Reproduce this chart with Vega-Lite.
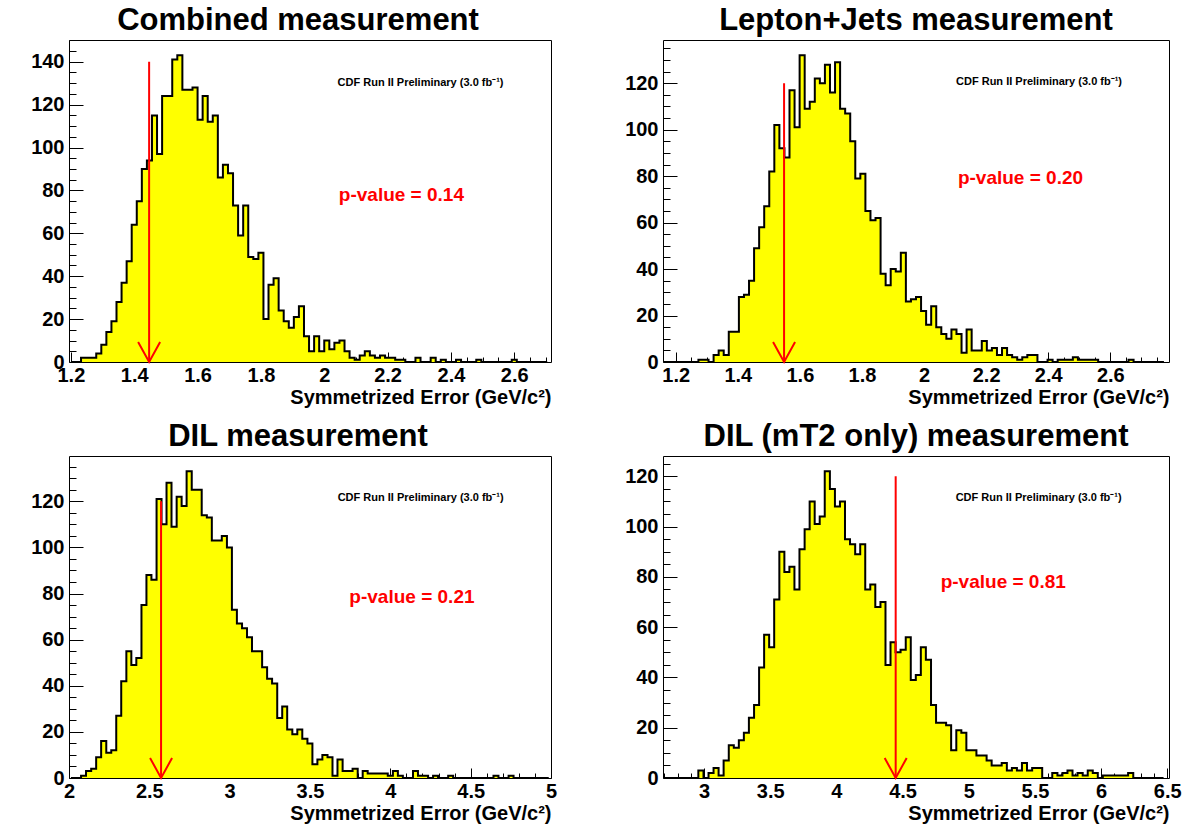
{
  "$schema": "https://vega.github.io/schema/vega-lite/v6.json",
  "background": "white",
  "padding": {"left": 30, "top": 4, "right": 2, "bottom": 2},
  "config": {
    "font": "Liberation Sans",
    "view": {"stroke": "black", "strokeWidth": 1},
    "axis": {
      "grid": false, "domain": false,
      "labelFont": "Liberation Sans", "labelFontWeight": "bold", "labelFontSize": 20, "labelColor": "black",
      "labelFlush": false, "labelOverlap": false,
      "tickColor": "black", "tickWidth": 1,
      "titleFont": "Liberation Sans", "titleFontWeight": "bold", "titleFontSize": 20, "titleColor": "black"
    },
    "title": {"font": "Liberation Sans", "fontWeight": "bold", "fontSize": 31, "color": "black", "anchor": "middle", "offset": 3, "baseline": "alphabetic"}
  },
  "datasets": {
    "combined": [
      {"err":1.2,"n":0},{"err":1.216,"n":0},{"err":1.232,"n":2},{"err":1.248,"n":2},{"err":1.264,"n":2},{"err":1.28,"n":4},{"err":1.296,"n":8},{"err":1.312,"n":14},{"err":1.328,"n":19},{"err":1.344,"n":28},
      {"err":1.36,"n":37},{"err":1.376,"n":47},{"err":1.392,"n":64},{"err":1.408,"n":75},{"err":1.424,"n":90},{"err":1.44,"n":94},{"err":1.456,"n":115},{"err":1.472,"n":97},{"err":1.488,"n":124},{"err":1.504,"n":124},
      {"err":1.52,"n":141},{"err":1.536,"n":143},{"err":1.552,"n":127},{"err":1.568,"n":127},{"err":1.584,"n":128},{"err":1.6,"n":113},{"err":1.616,"n":124},{"err":1.632,"n":112},{"err":1.648,"n":115},{"err":1.664,"n":86},
      {"err":1.68,"n":92},{"err":1.696,"n":88},{"err":1.712,"n":73},{"err":1.728,"n":59},{"err":1.744,"n":73},{"err":1.76,"n":49},{"err":1.776,"n":48},{"err":1.792,"n":51},{"err":1.808,"n":20},{"err":1.824,"n":36},
      {"err":1.84,"n":39},{"err":1.856,"n":24},{"err":1.872,"n":19},{"err":1.888,"n":16},{"err":1.904,"n":21},{"err":1.92,"n":26},{"err":1.936,"n":12},{"err":1.952,"n":5},{"err":1.968,"n":12},{"err":1.984,"n":5},
      {"err":2.0,"n":10},{"err":2.016,"n":6},{"err":2.032,"n":9},{"err":2.048,"n":10},{"err":2.064,"n":5},{"err":2.08,"n":2},{"err":2.096,"n":1},{"err":2.112,"n":3},{"err":2.128,"n":5},{"err":2.144,"n":3},
      {"err":2.16,"n":2},{"err":2.176,"n":3},{"err":2.192,"n":2},{"err":2.208,"n":2},{"err":2.224,"n":1},{"err":2.24,"n":1},{"err":2.256,"n":0},{"err":2.272,"n":0},{"err":2.288,"n":2},{"err":2.304,"n":0},
      {"err":2.32,"n":0},{"err":2.336,"n":2},{"err":2.352,"n":0},{"err":2.368,"n":1},{"err":2.384,"n":0},{"err":2.4,"n":0},{"err":2.416,"n":1},{"err":2.432,"n":0},{"err":2.448,"n":0},{"err":2.464,"n":0},
      {"err":2.48,"n":1},{"err":2.496,"n":0},{"err":2.512,"n":0},{"err":2.528,"n":0},{"err":2.544,"n":0},{"err":2.56,"n":0},{"err":2.576,"n":0},{"err":2.592,"n":1},{"err":2.608,"n":0},{"err":2.624,"n":0},
      {"err":2.64,"n":0},{"err":2.656,"n":0},{"err":2.672,"n":0},{"err":2.688,"n":0},{"err":2.704,"n":0}
    ],
    "ljets": [
      {"err":1.159,"n":0},{"err":1.1753,"n":0},{"err":1.1916,"n":0},{"err":1.2079,"n":0},{"err":1.2242,"n":0},{"err":1.2405,"n":0},{"err":1.2568,"n":0},{"err":1.2731,"n":1},{"err":1.2894,"n":1},{"err":1.3057,"n":0},
      {"err":1.322,"n":3},{"err":1.3383,"n":5},{"err":1.3546,"n":3},{"err":1.3709,"n":13},{"err":1.3872,"n":13},{"err":1.4035,"n":28},{"err":1.4198,"n":29},{"err":1.4361,"n":35},{"err":1.4524,"n":49},{"err":1.4687,"n":58},
      {"err":1.485,"n":67},{"err":1.5013,"n":82},{"err":1.5176,"n":102},{"err":1.5339,"n":92},{"err":1.5502,"n":88},{"err":1.5665,"n":117},{"err":1.5828,"n":101},{"err":1.5991,"n":132},{"err":1.6154,"n":109},{"err":1.6317,"n":112},
      {"err":1.648,"n":122},{"err":1.6643,"n":120},{"err":1.6806,"n":128},{"err":1.6969,"n":116},{"err":1.7132,"n":129},{"err":1.7295,"n":109},{"err":1.7458,"n":107},{"err":1.7621,"n":95},{"err":1.7784,"n":79},{"err":1.7947,"n":81},
      {"err":1.811,"n":65},{"err":1.8273,"n":61},{"err":1.8436,"n":62},{"err":1.8599,"n":38},{"err":1.8762,"n":33},{"err":1.8925,"n":40},{"err":1.9088,"n":39},{"err":1.9251,"n":47},{"err":1.9414,"n":26},{"err":1.9577,"n":27},
      {"err":1.974,"n":28},{"err":1.9903,"n":22},{"err":2.0066,"n":16},{"err":2.0229,"n":24},{"err":2.0392,"n":15},{"err":2.0555,"n":12},{"err":2.0718,"n":10},{"err":2.0881,"n":14},{"err":2.1044,"n":12},{"err":2.1207,"n":4},
      {"err":2.137,"n":14},{"err":2.1533,"n":5},{"err":2.1696,"n":5},{"err":2.1859,"n":9},{"err":2.2022,"n":5},{"err":2.2185,"n":6},{"err":2.2348,"n":3},{"err":2.2511,"n":6},{"err":2.2674,"n":3},{"err":2.2837,"n":2},
      {"err":2.3,"n":1},{"err":2.3163,"n":2},{"err":2.3326,"n":3},{"err":2.3489,"n":3},{"err":2.3652,"n":0},{"err":2.3815,"n":0},{"err":2.3978,"n":1},{"err":2.4141,"n":0},{"err":2.4304,"n":1},{"err":2.4467,"n":1},
      {"err":2.463,"n":1},{"err":2.4793,"n":2},{"err":2.4956,"n":1},{"err":2.5119,"n":1},{"err":2.5282,"n":1},{"err":2.5445,"n":1},{"err":2.5608,"n":0},{"err":2.5771,"n":0},{"err":2.5934,"n":0},{"err":2.6097,"n":0},
      {"err":2.626,"n":0},{"err":2.6423,"n":0},{"err":2.6586,"n":1},{"err":2.6749,"n":0},{"err":2.6912,"n":0},{"err":2.7075,"n":0},{"err":2.7238,"n":0},{"err":2.7401,"n":0},{"err":2.7564,"n":0},{"err":2.7727,"n":0}
    ],
    "dil": [
      {"err":2.012,"n":0},{"err":2.044,"n":0},
      {"err":2.075,"n":1},{"err":2.106,"n":3},{"err":2.138,"n":4},{"err":2.169,"n":9},{"err":2.2,"n":16},{"err":2.232,"n":11},{"err":2.263,"n":12},{"err":2.294,"n":27},{"err":2.325,"n":42},{"err":2.357,"n":55},
      {"err":2.388,"n":49},{"err":2.419,"n":52},{"err":2.451,"n":75},{"err":2.482,"n":88},{"err":2.513,"n":86},{"err":2.545,"n":121},{"err":2.576,"n":110},{"err":2.607,"n":128},{"err":2.638,"n":109},{"err":2.67,"n":122},
      {"err":2.701,"n":118},{"err":2.732,"n":133},{"err":2.764,"n":125},{"err":2.795,"n":125},{"err":2.826,"n":114},{"err":2.858,"n":113},{"err":2.889,"n":103},{"err":2.92,"n":103},{"err":2.951,"n":105},{"err":2.983,"n":100},
      {"err":3.014,"n":73},{"err":3.045,"n":67},{"err":3.077,"n":65},{"err":3.108,"n":61},{"err":3.139,"n":55},{"err":3.171,"n":55},{"err":3.202,"n":48},{"err":3.233,"n":43},{"err":3.264,"n":41},{"err":3.296,"n":26},
      {"err":3.327,"n":31},{"err":3.358,"n":21},{"err":3.39,"n":19},{"err":3.421,"n":21},{"err":3.452,"n":17},{"err":3.484,"n":15},{"err":3.515,"n":6},{"err":3.546,"n":8},{"err":3.577,"n":10},{"err":3.609,"n":9},
      {"err":3.64,"n":1},{"err":3.671,"n":8},{"err":3.703,"n":3},{"err":3.734,"n":3},{"err":3.765,"n":4},{"err":3.797,"n":0},{"err":3.828,"n":3},{"err":3.859,"n":2},{"err":3.89,"n":2},{"err":3.922,"n":2},
      {"err":3.953,"n":2},{"err":3.984,"n":1},{"err":4.016,"n":3},{"err":4.047,"n":1},{"err":4.078,"n":0},{"err":4.11,"n":0},{"err":4.141,"n":3},{"err":4.172,"n":1},{"err":4.203,"n":1},{"err":4.235,"n":0},
      {"err":4.266,"n":1},{"err":4.297,"n":0},{"err":4.328,"n":0},{"err":4.36,"n":1},{"err":4.391,"n":0},{"err":4.422,"n":0},{"err":4.454,"n":0},{"err":4.485,"n":0},{"err":4.516,"n":0},{"err":4.548,"n":0},
      {"err":4.579,"n":0},{"err":4.61,"n":0},{"err":4.642,"n":1},{"err":4.673,"n":0},{"err":4.704,"n":0},{"err":4.736,"n":1},{"err":4.767,"n":0},{"err":4.798,"n":0},{"err":4.829,"n":0},{"err":4.861,"n":0},
      {"err":4.892,"n":0},{"err":4.923,"n":0},{"err":4.955,"n":0},{"err":4.986,"n":0}
    ],
    "dilmt2": [
      {"err":2.69,"n":0},{"err":2.728,"n":0},{"err":2.766,"n":0},{"err":2.805,"n":0},{"err":2.843,"n":0},{"err":2.881,"n":0},{"err":2.919,"n":0},{"err":2.957,"n":3},{"err":2.996,"n":0},{"err":3.034,"n":2},
      {"err":3.072,"n":4},{"err":3.11,"n":1},{"err":3.148,"n":7},{"err":3.187,"n":13},{"err":3.225,"n":12},{"err":3.263,"n":15},{"err":3.301,"n":18},{"err":3.339,"n":24},{"err":3.378,"n":29},{"err":3.416,"n":44},
      {"err":3.454,"n":57},{"err":3.492,"n":52},{"err":3.53,"n":71},{"err":3.569,"n":90},{"err":3.607,"n":82},{"err":3.645,"n":84},{"err":3.683,"n":75},{"err":3.721,"n":91},{"err":3.76,"n":99},{"err":3.798,"n":110},
      {"err":3.836,"n":101},{"err":3.874,"n":104},{"err":3.912,"n":122},{"err":3.951,"n":115},{"err":3.989,"n":108},{"err":4.027,"n":110},{"err":4.065,"n":95},{"err":4.103,"n":93},{"err":4.142,"n":89},{"err":4.18,"n":93},
      {"err":4.218,"n":75},{"err":4.256,"n":77},{"err":4.294,"n":68},{"err":4.333,"n":70},{"err":4.371,"n":45},{"err":4.409,"n":54},{"err":4.447,"n":50},{"err":4.485,"n":51},{"err":4.524,"n":56},{"err":4.562,"n":39},
      {"err":4.6,"n":41},{"err":4.638,"n":52},{"err":4.676,"n":47},{"err":4.715,"n":29},{"err":4.753,"n":22},{"err":4.791,"n":22},{"err":4.829,"n":21},{"err":4.867,"n":11},{"err":4.906,"n":19},{"err":4.944,"n":18},
      {"err":4.982,"n":11},{"err":5.02,"n":11},{"err":5.058,"n":9},{"err":5.097,"n":9},{"err":5.135,"n":7},{"err":5.173,"n":5},{"err":5.211,"n":5},{"err":5.249,"n":6},{"err":5.288,"n":3},{"err":5.326,"n":4},
      {"err":5.364,"n":3},{"err":5.402,"n":6},{"err":5.44,"n":3},{"err":5.479,"n":4},{"err":5.517,"n":4},{"err":5.555,"n":0},{"err":5.593,"n":0},{"err":5.631,"n":2},{"err":5.67,"n":1},{"err":5.708,"n":2},
      {"err":5.746,"n":3},{"err":5.784,"n":1},{"err":5.822,"n":2},{"err":5.861,"n":1},{"err":5.899,"n":3},{"err":5.937,"n":2},{"err":5.975,"n":0},{"err":6.013,"n":1},{"err":6.052,"n":1},{"err":6.09,"n":1},
      {"err":6.128,"n":1},{"err":6.166,"n":1},{"err":6.204,"n":2},{"err":6.243,"n":0},{"err":6.281,"n":0},{"err":6.319,"n":0},{"err":6.357,"n":0},{"err":6.395,"n":0},{"err":6.434,"n":0},{"err":6.472,"n":0}
    ]
  },
  "columns": 2,
  "spacing": {"row": 94, "column": 112},
  "bounds": "flush",
  "align": "each",
  "concat": [
    {
      "title": {"text": "Combined measurement", "dx": -12},
      "width": 482, "height": 322,
      "data": {"name": "combined"},
      "resolve": {"axis": {"x": "independent", "y": "independent"}},
      "layer": [
        {"mark": {"type": "area", "interpolate": "step-after", "color": "#ffff00", "clip": true},
         "encoding": {
           "x": {"field": "err", "type": "quantitative", "scale": {"domain": [1.194, 2.716], "nice": false, "zero": false},
                 "axis": {"orient": "bottom", "values": [1.2, 1.4, 1.6, 1.8, 2, 2.2, 2.4, 2.6], "format": "~g", "tickSize": -10, "labelPadding": 13, "title": "Symmetrized Error (GeV/c²)", "titleAnchor": "end", "titlePadding": 2}},
           "y": {"field": "n", "type": "quantitative", "scale": {"domain": [0, 150.15], "nice": false},
                 "axis": {"orient": "left", "values": [0, 20, 40, 60, 80, 100, 120, 140], "format": "d", "tickSize": -14, "labelPadding": 19, "title": null}}}},
        {"mark": {"type": "line", "interpolate": "step-after", "color": "black", "strokeWidth": 2, "clip": true},
         "encoding": {
           "x": {"field": "err", "type": "quantitative", "axis": {"orient": "bottom", "values": [1.25, 1.3, 1.35, 1.45, 1.5, 1.55, 1.65, 1.7, 1.75, 1.85, 1.9, 1.95, 2.05, 2.1, 2.15, 2.25, 2.3, 2.35, 2.45, 2.5, 2.55, 2.65, 2.7], "labels": false, "tickSize": -5, "title": null}},
           "y": {"field": "n", "type": "quantitative", "axis": {"orient": "left", "values": [5, 10, 15, 25, 30, 35, 45, 50, 55, 65, 70, 75, 85, 90, 95, 105, 110, 115, 125, 130, 135, 145, 150], "labels": false, "tickSize": -7, "title": null}}}},
        {"data": {"values": [{"observed": 1.447}]},
         "mark": {"type": "rule", "color": "#ff0000", "strokeWidth": 2},
         "encoding": {"x": {"field": "observed", "type": "quantitative", "axis": null}, "y": {"datum": 140, "axis": null}, "y2": {"datum": 0}}},
        {"data": {"values": [{"observed": 1.447}]},
         "mark": {"type": "point", "shape": "M -0.55 -1 L 0 0 L 0.55 -1", "size": 1600, "filled": false, "color": "#ff0000", "strokeWidth": 2, "opacity": 1},
         "encoding": {"x": {"field": "observed", "type": "quantitative", "axis": null}, "y": {"datum": 0, "axis": null}}},
        {"data": {"values": [{}]},
         "mark": {"type": "text", "align": "left", "baseline": "middle", "font": "Liberation Sans", "fontWeight": "bold", "fontSize": 11, "color": "black"},
         "encoding": {"x": {"datum": 2.042, "type": "quantitative", "axis": null}, "y": {"datum": 130, "axis": null}, "text": {"value": "CDF Run II Preliminary (3.0 fb⁻¹)"}}},
        {"data": {"values": [{}]},
         "mark": {"type": "text", "align": "left", "baseline": "middle", "font": "Liberation Sans", "fontWeight": "bold", "fontSize": 19, "color": "#ff0000"},
         "encoding": {"x": {"datum": 2.046, "type": "quantitative", "axis": null}, "y": {"datum": 78, "axis": null}, "text": {"value": "p-value = 0.14"}}}
      ]
    },
    {
      "title": "Lepton+Jets measurement",
      "width": 506, "height": 322,
      "data": {"name": "ljets"},
      "resolve": {"axis": {"x": "independent", "y": "independent"}},
      "layer": [
        {"mark": {"type": "area", "interpolate": "step-after", "color": "#ffff00", "clip": true},
         "encoding": {
           "x": {"field": "err", "type": "quantitative", "scale": {"domain": [1.159, 2.789], "nice": false, "zero": false},
                 "axis": {"orient": "bottom", "values": [1.2, 1.4, 1.6, 1.8, 2, 2.2, 2.4, 2.6], "format": "~g", "tickSize": -10, "labelPadding": 13, "title": "Symmetrized Error (GeV/c²)", "titleAnchor": "end", "titlePadding": 2}},
           "y": {"field": "n", "type": "quantitative", "scale": {"domain": [0, 138.6], "nice": false},
                 "axis": {"orient": "left", "values": [0, 20, 40, 60, 80, 100, 120], "format": "d", "tickSize": -14, "labelPadding": 19, "title": null}}}},
        {"mark": {"type": "line", "interpolate": "step-after", "color": "black", "strokeWidth": 2, "clip": true},
         "encoding": {
           "x": {"field": "err", "type": "quantitative", "axis": {"orient": "bottom", "values": [1.25, 1.3, 1.35, 1.45, 1.5, 1.55, 1.65, 1.7, 1.75, 1.85, 1.9, 1.95, 2.05, 2.1, 2.15, 2.25, 2.3, 2.35, 2.45, 2.5, 2.55, 2.65, 2.7, 2.75], "labels": false, "tickSize": -5, "title": null}},
           "y": {"field": "n", "type": "quantitative", "axis": {"orient": "left", "values": [5, 10, 15, 25, 30, 35, 45, 50, 55, 65, 70, 75, 85, 90, 95, 105, 110, 115, 125, 130, 135], "labels": false, "tickSize": -7, "title": null}}}},
        {"data": {"values": [{"observed": 1.549}]},
         "mark": {"type": "rule", "color": "#ff0000", "strokeWidth": 2},
         "encoding": {"x": {"field": "observed", "type": "quantitative", "axis": null}, "y": {"datum": 120, "axis": null}, "y2": {"datum": 0}}},
        {"data": {"values": [{"observed": 1.549}]},
         "mark": {"type": "point", "shape": "M -0.55 -1 L 0 0 L 0.55 -1", "size": 1600, "filled": false, "color": "#ff0000", "strokeWidth": 2, "opacity": 1},
         "encoding": {"x": {"field": "observed", "type": "quantitative", "axis": null}, "y": {"datum": 0, "axis": null}}},
        {"data": {"values": [{}]},
         "mark": {"type": "text", "align": "left", "baseline": "middle", "font": "Liberation Sans", "fontWeight": "bold", "fontSize": 11, "color": "black"},
         "encoding": {"x": {"datum": 2.103, "type": "quantitative", "axis": null}, "y": {"datum": 120.5, "axis": null}, "text": {"value": "CDF Run II Preliminary (3.0 fb⁻¹)"}}},
        {"data": {"values": [{}]},
         "mark": {"type": "text", "align": "left", "baseline": "middle", "font": "Liberation Sans", "fontWeight": "bold", "fontSize": 19, "color": "#ff0000"},
         "encoding": {"x": {"datum": 2.109, "type": "quantitative", "axis": null}, "y": {"datum": 79.4, "axis": null}, "text": {"value": "p-value = 0.20"}}}
      ]
    },
    {
      "title": {"text": "DIL measurement", "dx": -12},
      "width": 482, "height": 322,
      "data": {"name": "dil"},
      "resolve": {"axis": {"x": "independent", "y": "independent"}},
      "layer": [
        {"mark": {"type": "area", "interpolate": "step-after", "color": "#ffff00", "clip": true},
         "encoding": {
           "x": {"field": "err", "type": "quantitative", "scale": {"domain": [2, 5], "nice": false, "zero": false},
                 "axis": {"orient": "bottom", "values": [2, 2.5, 3, 3.5, 4, 4.5, 5], "format": "~g", "tickSize": -10, "labelPadding": 13, "title": "Symmetrized Error (GeV/c²)", "titleAnchor": "end", "titlePadding": 2}},
           "y": {"field": "n", "type": "quantitative", "scale": {"domain": [0, 139.65], "nice": false},
                 "axis": {"orient": "left", "values": [0, 20, 40, 60, 80, 100, 120], "format": "d", "tickSize": -14, "labelPadding": 19, "title": null}}}},
        {"mark": {"type": "line", "interpolate": "step-after", "color": "black", "strokeWidth": 2, "clip": true},
         "encoding": {
           "x": {"field": "err", "type": "quantitative", "axis": {"orient": "bottom", "values": [2.1, 2.2, 2.3, 2.4, 2.6, 2.7, 2.8, 2.9, 3.1, 3.2, 3.3, 3.4, 3.6, 3.7, 3.8, 3.9, 4.1, 4.2, 4.3, 4.4, 4.6, 4.7, 4.8, 4.9], "labels": false, "tickSize": -5, "title": null}},
           "y": {"field": "n", "type": "quantitative", "axis": {"orient": "left", "values": [5, 10, 15, 25, 30, 35, 45, 50, 55, 65, 70, 75, 85, 90, 95, 105, 110, 115, 125, 130, 135], "labels": false, "tickSize": -7, "title": null}}}},
        {"data": {"values": [{"observed": 2.573}]},
         "mark": {"type": "rule", "color": "#ff0000", "strokeWidth": 2},
         "encoding": {"x": {"field": "observed", "type": "quantitative", "axis": null}, "y": {"datum": 120, "axis": null}, "y2": {"datum": 0}}},
        {"data": {"values": [{"observed": 2.573}]},
         "mark": {"type": "point", "shape": "M -0.55 -1 L 0 0 L 0.55 -1", "size": 1600, "filled": false, "color": "#ff0000", "strokeWidth": 2, "opacity": 1},
         "encoding": {"x": {"field": "observed", "type": "quantitative", "axis": null}, "y": {"datum": 0, "axis": null}}},
        {"data": {"values": [{}]},
         "mark": {"type": "text", "align": "left", "baseline": "middle", "font": "Liberation Sans", "fontWeight": "bold", "fontSize": 11, "color": "black"},
         "encoding": {"x": {"datum": 3.672, "type": "quantitative", "axis": null}, "y": {"datum": 121.3, "axis": null}, "text": {"value": "CDF Run II  Preliminary (3.0 fb⁻¹)"}}},
        {"data": {"values": [{}]},
         "mark": {"type": "text", "align": "left", "baseline": "middle", "font": "Liberation Sans", "fontWeight": "bold", "fontSize": 19, "color": "#ff0000"},
         "encoding": {"x": {"datum": 3.745, "type": "quantitative", "axis": null}, "y": {"datum": 78.6, "axis": null}, "text": {"value": "p-value = 0.21"}}}
      ]
    },
    {
      "title": "DIL (mT2 only) measurement",
      "width": 506, "height": 322,
      "data": {"name": "dilmt2"},
      "resolve": {"axis": {"x": "independent", "y": "independent"}},
      "layer": [
        {"mark": {"type": "area", "interpolate": "step-after", "color": "#ffff00", "clip": true},
         "encoding": {
           "x": {"field": "err", "type": "quantitative", "scale": {"domain": [2.69, 6.513], "nice": false, "zero": false},
                 "axis": {"orient": "bottom", "values": [3, 3.5, 4, 4.5, 5, 5.5, 6, 6.5], "format": "~g", "tickSize": -10, "labelPadding": 13, "title": "Symmetrized Error (GeV/c²)", "titleAnchor": "end", "titlePadding": 2}},
           "y": {"field": "n", "type": "quantitative", "scale": {"domain": [0, 128.1], "nice": false},
                 "axis": {"orient": "left", "values": [0, 20, 40, 60, 80, 100, 120], "format": "d", "tickSize": -14, "labelPadding": 19, "title": null}}}},
        {"mark": {"type": "line", "interpolate": "step-after", "color": "black", "strokeWidth": 2, "clip": true},
         "encoding": {
           "x": {"field": "err", "type": "quantitative", "axis": {"orient": "bottom", "values": [2.7, 2.8, 2.9, 3.1, 3.2, 3.3, 3.4, 3.6, 3.7, 3.8, 3.9, 4.1, 4.2, 4.3, 4.4, 4.6, 4.7, 4.8, 4.9, 5.1, 5.2, 5.3, 5.4, 5.6, 5.7, 5.8, 5.9, 6.1, 6.2, 6.3, 6.4], "labels": false, "tickSize": -5, "title": null}},
           "y": {"field": "n", "type": "quantitative", "axis": {"orient": "left", "values": [5, 10, 15, 25, 30, 35, 45, 50, 55, 65, 70, 75, 85, 90, 95, 105, 110, 115, 125], "labels": false, "tickSize": -7, "title": null}}}},
        {"data": {"values": [{"observed": 4.448}]},
         "mark": {"type": "rule", "color": "#ff0000", "strokeWidth": 2},
         "encoding": {"x": {"field": "observed", "type": "quantitative", "axis": null}, "y": {"datum": 120, "axis": null}, "y2": {"datum": 0}}},
        {"data": {"values": [{"observed": 4.448}]},
         "mark": {"type": "point", "shape": "M -0.55 -1 L 0 0 L 0.55 -1", "size": 1600, "filled": false, "color": "#ff0000", "strokeWidth": 2, "opacity": 1},
         "encoding": {"x": {"field": "observed", "type": "quantitative", "axis": null}, "y": {"datum": 0, "axis": null}}},
        {"data": {"values": [{}]},
         "mark": {"type": "text", "align": "left", "baseline": "middle", "font": "Liberation Sans", "fontWeight": "bold", "fontSize": 11, "color": "black"},
         "encoding": {"x": {"datum": 4.901, "type": "quantitative", "axis": null}, "y": {"datum": 111.4, "axis": null}, "text": {"value": "CDF Run II  Preliminary (3.0 fb⁻¹)"}}},
        {"data": {"values": [{}]},
         "mark": {"type": "text", "align": "left", "baseline": "middle", "font": "Liberation Sans", "fontWeight": "bold", "fontSize": 19, "color": "#ff0000"},
         "encoding": {"x": {"datum": 4.788, "type": "quantitative", "axis": null}, "y": {"datum": 78.1, "axis": null}, "text": {"value": "p-value = 0.81"}}}
      ]
    }
  ]
}
